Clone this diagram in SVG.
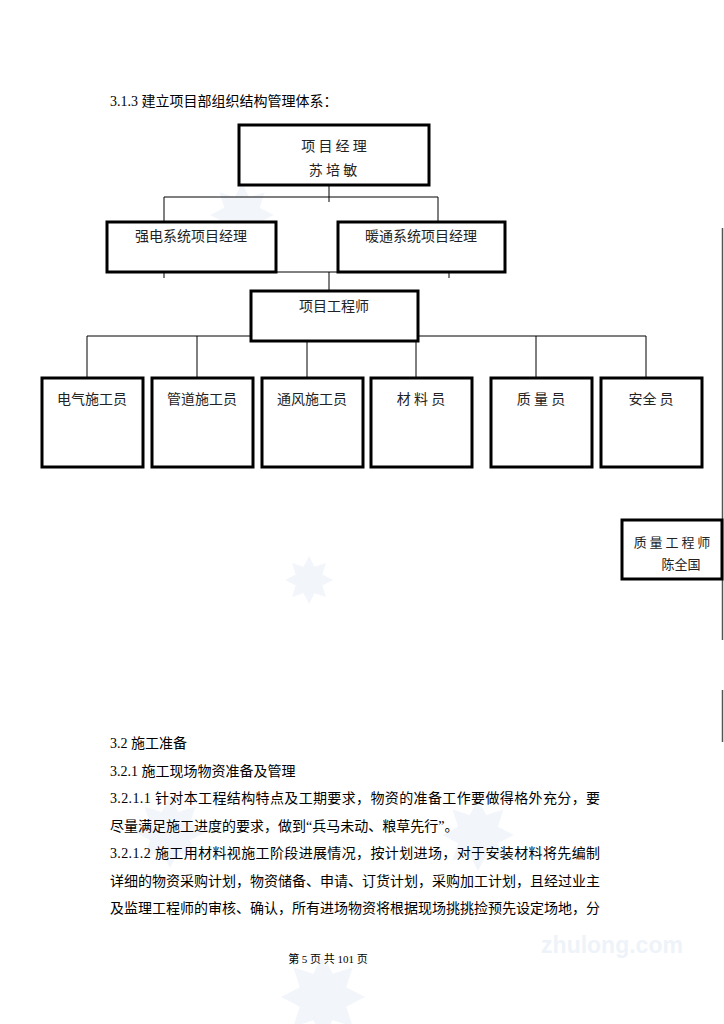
<svg xmlns="http://www.w3.org/2000/svg" xmlns:xlink="http://www.w3.org/1999/xlink" width="724" height="1024" viewBox="0 0 724 1024">
<style>
  .bx{fill:#fff;stroke:#000;stroke-width:3}
  .ln{stroke:#000;stroke-width:1;fill:none}
  .t{font-family:"Liberation Serif","Noto Sans CJK SC",serif;font-size:14px;fill:#000}
  .bt{font-family:"Noto Sans CJK SC","Liberation Sans",sans-serif;font-size:14px;fill:#222;text-anchor:middle}
  .wm{fill:#f2f6fb}
</style>
<defs>
  <polygon id="star" points="40,0 22.2,9.2 28.3,28.3 9.2,22.2 0,40 -9.2,22.2 -28.3,28.3 -22.2,9.2 -40,0 -22.2,-9.2 -28.3,-28.3 -9.2,-22.2 0,-40 9.2,-22.2 28.3,-28.3 22.2,-9.2"/>
</defs>
<rect width="724" height="1024" fill="#fff"/>
<g id="watermarks" class="wm">
  <use xlink:href="#star" transform="translate(242,215) scale(0.8)"/>
  <use xlink:href="#star" transform="translate(309,580) scale(0.6)"/>
  <use xlink:href="#star" transform="translate(170,832) scale(0.9)"/>
  <use xlink:href="#star" transform="translate(478,835) scale(0.9)"/>
  <use xlink:href="#star" transform="translate(323,997) scale(1.05)"/>
  <text x="612" y="953" text-anchor="middle" style="font-family:'Liberation Sans',sans-serif;font-size:23px;font-weight:bold;fill:#eef3f9">zhulong.com</text>
</g>
<text class="t" x="110" y="106">3.1.3 建立项目部组织结构管理体系：</text>
<g id="connectors">
  <path class="ln" d="M329 173V202M164 197H438M164 197V222M438 197V234M164 249V278M449 262V278M276 272H338M329 272V291M329 318V337M87 336H646M87 336V383M197 336V383M307 336V383M416 336V383M536 336V383M646 336V383"/>
  <path d="M722.5 228V640M722.5 690V742" stroke="#555" stroke-width="1.5" fill="none"/>
</g>
<g id="pm">
  <rect class="bx" x="239" y="125" width="190" height="60"/>
  <text class="bt" x="334" y="151">项 目 经 理</text>
  <text class="bt" x="333" y="175">苏 培 敏</text>
</g>
<g id="strong">
  <rect class="bx" x="107" y="222" width="169" height="50"/>
  <text class="bt" x="191" y="241">强电系统项目经理</text>
</g>
<g id="hvac">
  <rect class="bx" x="338" y="222" width="167" height="50"/>
  <text class="bt" x="421" y="241">暖通系统项目经理</text>
</g>
<g id="engineer">
  <rect class="bx" x="251" y="291" width="167" height="50"/>
  <text class="bt" x="334" y="311">项目工程师</text>
</g>
<g id="b1"><rect class="bx" x="42" y="378" width="101" height="89"/><text class="bt" x="92" y="404">电气施工员</text></g>
<g id="b2"><rect class="bx" x="152" y="378" width="101" height="89"/><text class="bt" x="202" y="404">管道施工员</text></g>
<g id="b3"><rect class="bx" x="262" y="378" width="101" height="89"/><text class="bt" x="312" y="404">通风施工员</text></g>
<g id="b4"><rect class="bx" x="371" y="378" width="101" height="89"/><text class="bt" x="421" y="404">材 料 员</text></g>
<g id="b5"><rect class="bx" x="491" y="378" width="101" height="89"/><text class="bt" x="541" y="404">质 量 员</text></g>
<g id="b6"><rect class="bx" x="601" y="378" width="101" height="89"/><text class="bt" x="651" y="404">安全 员</text></g>
<g id="qe">
  <rect class="bx" x="622" y="520" width="100" height="59"/>
  <text class="bt" x="672" y="547" style="font-size:13px">质 量 工 程 师</text>
  <text class="bt" x="681" y="569" style="font-size:13px">陈全国</text>
</g>
<g id="body">
  <text class="t" x="110" y="748">3.2 施工准备</text>
  <text class="t" x="110" y="776">3.2.1 施工现场物资准备及管理</text>
  <text class="t" x="110" y="803" textLength="490" lengthAdjust="spacing">3.2.1.1 针对本工程结构特点及工期要求，物资的准备工作要做得格外充分，要</text>
  <text class="t" x="110" y="831">尽量满足施工进度的要求，做到“兵马未动、粮草先行”。</text>
  <text class="t" x="110" y="858" textLength="490" lengthAdjust="spacing">3.2.1.2 施工用材料视施工阶段进展情况，按计划进场，对于安装材料将先编制</text>
  <text class="t" x="110" y="886" textLength="490" lengthAdjust="spacing">详细的物资采购计划，物资储备、申请、订货计划，采购加工计划，且经过业主</text>
  <text class="t" x="110" y="913" textLength="490" lengthAdjust="spacing">及监理工程师的审核、确认，所有进场物资将根据现场挑挑捡预先设定场地，分</text>
  <text class="t" x="328" y="963" text-anchor="middle" style="font-size:11px">第 5 页 共 101 页</text>
</g>
</svg>
